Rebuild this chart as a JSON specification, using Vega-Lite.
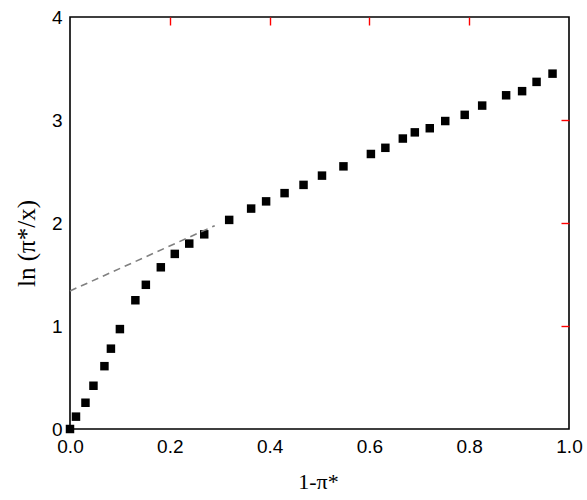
{
  "$schema": "https://vega.github.io/schema/vega-lite/v6.json",
  "width": 499,
  "height": 412,
  "autosize": {"type": "none"},
  "padding": {"left": 70, "top": 17, "right": 18, "bottom": 71},
  "background": "white",
  "config": {
    "view": {"stroke": "black", "strokeWidth": 1.6},
    "axis": {"grid": false, "tickColor": "red", "tickWidth": 1.4}
  },
  "datasets": {
    "pts": [
      {"x": 0.0, "y": 0.0}, {"x": 0.012, "y": 0.12}, {"x": 0.031, "y": 0.255}, {"x": 0.047, "y": 0.42},
      {"x": 0.069, "y": 0.61}, {"x": 0.082, "y": 0.78}, {"x": 0.10, "y": 0.97}, {"x": 0.131, "y": 1.25},
      {"x": 0.152, "y": 1.40}, {"x": 0.182, "y": 1.57}, {"x": 0.21, "y": 1.70}, {"x": 0.239, "y": 1.80},
      {"x": 0.269, "y": 1.89}, {"x": 0.319, "y": 2.03}, {"x": 0.363, "y": 2.14}, {"x": 0.393, "y": 2.21},
      {"x": 0.43, "y": 2.29}, {"x": 0.468, "y": 2.37}, {"x": 0.505, "y": 2.46}, {"x": 0.548, "y": 2.55},
      {"x": 0.603, "y": 2.67}, {"x": 0.632, "y": 2.73}, {"x": 0.667, "y": 2.82}, {"x": 0.691, "y": 2.88},
      {"x": 0.721, "y": 2.92}, {"x": 0.752, "y": 2.99}, {"x": 0.791, "y": 3.05}, {"x": 0.826, "y": 3.14},
      {"x": 0.874, "y": 3.24}, {"x": 0.906, "y": 3.28}, {"x": 0.935, "y": 3.37}, {"x": 0.967, "y": 3.45}
    ],
    "dash": [{"x": 0.0, "y": 1.34}, {"x": 0.29, "y": 1.974}]
  },
  "resolve": {"axis": {"x": "independent", "y": "independent"}},
  "layer": [
    {
      "data": {"name": "pts"},
      "mark": {"type": "point", "shape": "square", "filled": true, "size": 72, "color": "black", "opacity": 1},
      "encoding": {
        "x": {"field": "x", "type": "quantitative", "scale": {"domain": [0, 1], "nice": false},
          "axis": {"orient": "bottom", "values": [0, 0.2, 0.4, 0.6, 0.8, 1.0], "format": ".1f", "ticks": false, "domain": false, "labelPadding": 8, "labelFont": "Liberation Sans", "labelColor": "black", "labelFontSize": 19, "labelFlush": false, "title": "1-π*", "titleFont": "Liberation Serif", "titleFontWeight": "normal", "titleColor": "black", "titleFontSize": 22, "titleBaseline": "alphabetic", "titleY": 59, "titleX": 248}},
        "y": {"field": "y", "type": "quantitative", "scale": {"domain": [0, 4], "nice": false},
          "axis": {"orient": "left", "values": [0, 1, 2, 3, 4], "format": "d", "ticks": false, "domain": false, "labelPadding": 8, "labelFont": "Liberation Sans", "labelColor": "black", "labelFontSize": 19, "labelFlush": false, "title": "ln (π*/x)", "titleFont": "Liberation Serif", "titleFontWeight": "normal", "titleColor": "black", "titleFontSize": 25, "titleAngle": -90, "titleBaseline": "middle", "titleAlign": "center", "titleX": -44, "titleY": 226}}
      }
    },
    {
      "data": {"name": "dash"},
      "mark": {"type": "line", "color": "#808080", "strokeWidth": 1.6, "strokeDash": [7, 5]},
      "encoding": {
        "x": {"field": "x", "type": "quantitative", "scale": {"domain": [0, 1], "nice": false},
          "axis": {"orient": "top", "values": [0.2, 0.4, 0.6, 0.8], "labels": false, "title": null, "domain": false, "tickSize": 8, "offset": -8}},
        "y": {"field": "y", "type": "quantitative", "scale": {"domain": [0, 4], "nice": false},
          "axis": {"orient": "right", "values": [1, 2, 3], "labels": false, "title": null, "domain": false, "tickSize": 8, "offset": -8}}
      }
    }
  ]
}
